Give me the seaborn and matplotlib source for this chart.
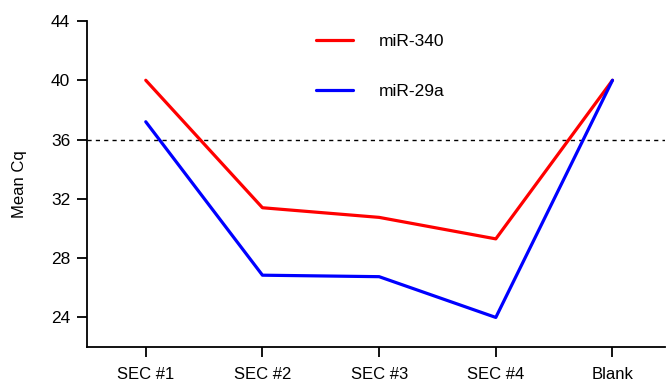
import matplotlib
matplotlib.use("Agg")
import matplotlib.pyplot as plt
import seaborn as sns
import pandas as pd

# Mean Cq per fraction for each miRNA
categories = ["SEC #1", "SEC #2", "SEC #3", "SEC #4", "Blank"]
mir340 = [40.0, 31.4, 30.75, 29.3, 40.0]
mir29a = [37.2, 26.85, 26.75, 24.0, 40.0]
series_names = ["miR-340", "miR-29a"]
series_colors = ["#ff0000", "#0000ff"]
threshold = 36
y_ticks = [24, 28, 32, 36, 40, 44]

df = pd.DataFrame({
    "fraction": categories * 2,
    "pos": list(range(len(categories))) * 2,
    "cq": mir340 + mir29a,
    "mirna": [series_names[0]] * len(categories) + [series_names[1]] * len(categories),
})

sns.set_style("ticks")
plt.rcParams["font.family"] = ["Liberation Sans", "DejaVu Sans"]
plt.rcParams["text.color"] = "black"
plt.rcParams["axes.labelcolor"] = "black"
plt.rcParams["xtick.color"] = "black"
plt.rcParams["ytick.color"] = "black"
plt.rcParams["axes.edgecolor"] = "black"

fig = plt.figure(figsize=(6.68, 3.81), dpi=100)
ax = fig.add_axes([0.130, 0.089, 0.8655, 0.856])

sns.lineplot(data=df, x="pos", y="cq", hue="mirna", hue_order=series_names,
             palette=series_colors, linewidth=2.3, ax=ax, sort=False)

ax.axhline(threshold, color="black", linewidth=1.0, linestyle=(0, (3, 3)), zorder=0)

ax.set_xlim(-0.505, 4.45)
ax.set_ylim(22, 44)
ax.set_yticks(y_ticks)
ax.set_yticklabels([str(t) for t in y_ticks])
ax.set_xticks(range(len(categories)))
ax.set_xticklabels(categories)
ax.set_xlabel("")
ax.set_ylabel("Mean Cq", fontsize=12, labelpad=17)

sns.despine(ax=ax)
ax.spines["left"].set_linewidth(1.3)
ax.spines["bottom"].set_linewidth(1.3)
ax.spines["left"].set_bounds(22, 44)
ax.tick_params(axis="both", length=7, width=1.3, labelsize=12.5, color="black",
               labelcolor="black")
ax.tick_params(axis="x", pad=7, labelsize=12)
ax.tick_params(axis="y", pad=5)

leg = ax.legend(loc="upper left", bbox_to_anchor=(0.37, 1.008), frameon=False,
                handlelength=2.1, handletextpad=1.5, labelspacing=2.0,
                fontsize=12.5)
for line in leg.get_lines():
    line.set_linewidth(2.3)

fig.savefig("out.png", dpi=100)
